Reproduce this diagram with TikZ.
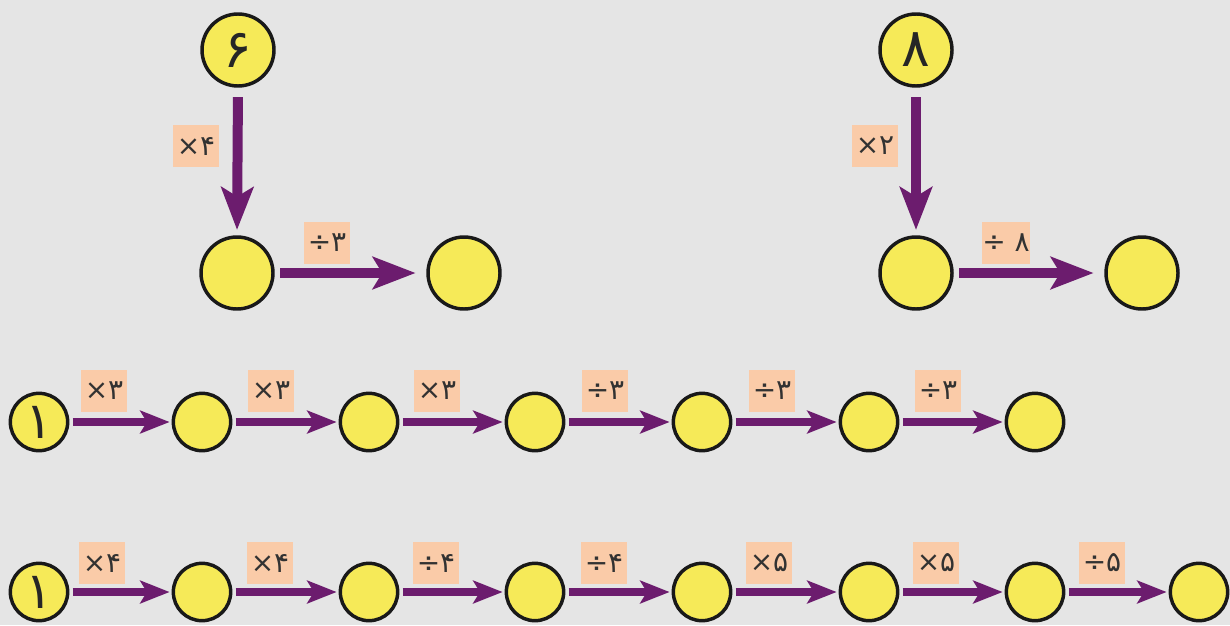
\documentclass[tikz,border=0pt]{standalone}
\usepackage{fontspec}
\newfontfamily\pfont[Script=Arabic]{DejaVu Sans}
\newfontfamily\lfont{DejaVu Sans}
\usetikzlibrary{arrows.meta}
\definecolor{bg}{RGB}{229,229,229}
\definecolor{cyel}{RGB}{246,234,88}
\definecolor{apur}{RGB}{108,28,110}
\definecolor{lpeach}{RGB}{250,203,168}
\definecolor{ltext}{RGB}{50,50,50}
\newcommand{\tms}[1]{{\lfont ×}{\pfont #1}}
\newcommand{\dvd}[1]{{\lfont ÷}{\pfont #1}}
\begin{document}
\begin{tikzpicture}[x=0.75pt,y=-0.75pt,
  bigc/.style={circle,draw=black!90,line width=2.6pt,fill=cyel,minimum size=54pt,inner sep=0pt,text=black!85,font=\pfont\fontsize{40}{40}\selectfont},
  smallc/.style={circle,draw=black!90,line width=2.6pt,fill=cyel,minimum size=43pt,inner sep=0pt,text=black!85,font=\pfont\fontsize{38}{38}\selectfont},
  oplabel/.style={fill=lpeach,minimum width=34pt,minimum height=32pt,inner sep=0pt,text=ltext,font=\fontsize{21}{21}\selectfont},
  bigarrow/.style={draw=apur,line width=7.5pt,-{Stealth[length=32pt,width=24pt,inset=7pt]}},
  smallarrow/.style={draw=apur,line width=6pt,-{Stealth[length=22pt,width=17pt,inset=5pt]}},
]
\fill[bg] (0,0) rectangle (1230,625);
\useasboundingbox (0,0) rectangle (1230,625);

% top left
\node[bigc] (a1) at (238,50) {۶};
\node[bigc] (a2) at (237,273) {};
\node[bigc] (a3) at (464,273) {};
\draw[bigarrow,shorten <=7pt,shorten >=4pt] (a1.south) -- (a2.north);
\draw[bigarrow,shorten <=4pt,shorten >=8pt] (a2.east) -- (a3.west);
\node[oplabel] (la1) at (196,146) {\tms{۴}};
\node[oplabel] (la2) at (327,243) {\dvd{۳}};

% top right
\node[bigc] (b1) at (916,50) {۸};
\node[bigc] (b2) at (916,273) {};
\node[bigc] (b3) at (1142,273) {};
\draw[bigarrow,shorten <=7pt,shorten >=4pt] (b1.south) -- (b2.north);
\draw[bigarrow,shorten <=4pt,shorten >=8pt] (b2.east) -- (b3.west);
\node[oplabel] (lb1) at (875,146) {\tms{۲}};
\node[oplabel] (lb2) at (1006,243) {{\lfont ÷\ }{\pfont ۸}};

% row 3
\node[smallc] (r1) at (39,422) {۱};
\node[smallc] (r2) at (202,422) {};
\node[smallc] (r3) at (369,422) {};
\node[smallc] (r4) at (535,422) {};
\node[smallc] (r5) at (702,422) {};
\node[smallc] (r6) at (869,422) {};
\node[smallc] (r7) at (1035,422) {};
\foreach \i/\j in {1/2,2/3,3/4,4/5,5/6,6/7}{
  \draw[smallarrow,shorten <=2.5pt,shorten >=1.5pt] (r\i.east) -- (r\j.west);
}
\node[oplabel] (lr1) at (104,391) {\tms{۳}};
\node[oplabel] (lr2) at (271,391) {\tms{۳}};
\node[oplabel] (lr3) at (437,391) {\tms{۳}};
\node[oplabel] (lr4) at (605,391) {\dvd{۳}};
\node[oplabel] (lr5) at (772,391) {\dvd{۳}};
\node[oplabel] (lr6) at (938,391) {\dvd{۳}};

% row 4
\node[smallc] (s1) at (39,592) {۱};
\node[smallc] (s2) at (202,592) {};
\node[smallc] (s3) at (369,592) {};
\node[smallc] (s4) at (535,592) {};
\node[smallc] (s5) at (702,592) {};
\node[smallc] (s6) at (869,592) {};
\node[smallc] (s7) at (1035,592) {};
\node[smallc] (s8) at (1199,592) {};
\foreach \i/\j in {1/2,2/3,3/4,4/5,5/6,6/7,7/8}{
  \draw[smallarrow,shorten <=2.5pt,shorten >=1.5pt] (s\i.east) -- (s\j.west);
}
\node[oplabel] (ls1) at (102,563) {\tms{۴}};
\node[oplabel] (ls2) at (270,563) {\tms{۴}};
\node[oplabel] (ls3) at (436,563) {\dvd{۴}};
\node[oplabel] (ls4) at (604,563) {\dvd{۴}};
\node[oplabel] (ls5) at (769,563) {\tms{۵}};
\node[oplabel] (ls6) at (936,563) {\tms{۵}};
\node[oplabel] (ls7) at (1102,563) {\dvd{۵}};
\end{tikzpicture}
\end{document}
